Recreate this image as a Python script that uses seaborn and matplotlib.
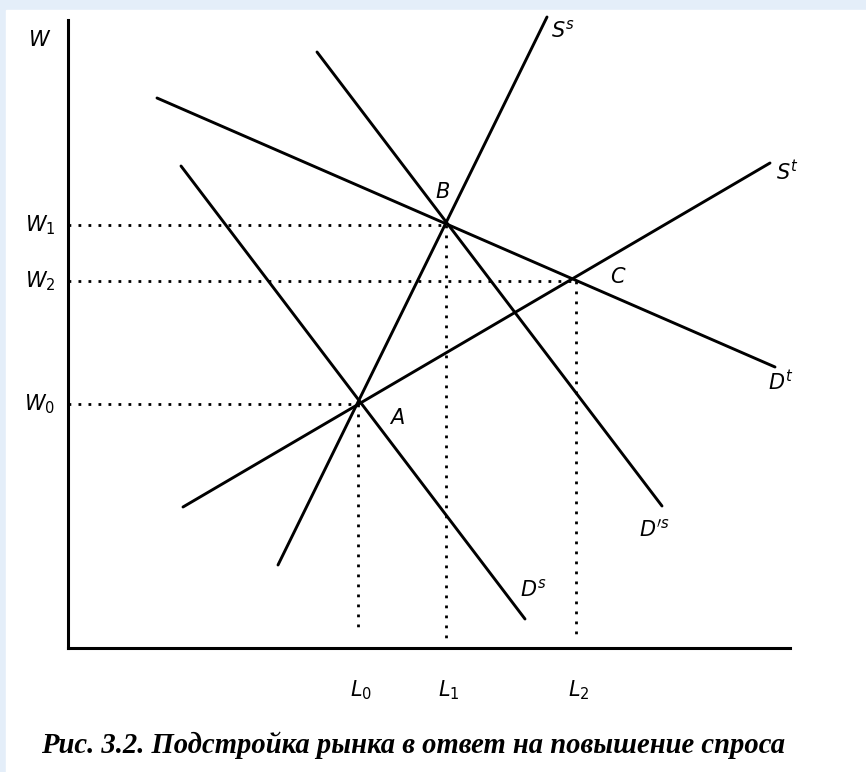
import numpy as np
import pandas as pd
import matplotlib
matplotlib.use("Agg")
import matplotlib.pyplot as plt
import seaborn as sns

# line endpoints (L on x, W on y)
curves = ["S^s", "S^t", "D^t", "D^s", "D'^s"]
curve_L = [[21.0, 47.9], [11.5, 70.2], [8.9, 70.7], [11.3, 45.7], [24.9, 59.4]]
curve_W = [[8.3, 63.1], [14.1, 48.5], [55.0, 28.1], [48.2, 2.9], [59.6, 14.2]]

# equilibrium points A, B, C
points = ["A", "B", "C"]
point_L = [29.0, 37.8, 50.8]
point_W = [24.4, 42.3, 36.7]
guide_bottom = [1.4, 0.3, 1.4]

w_labels = [r"$W_0$", r"$W_1$", r"$W_2$"]
l_labels = [r"$L_0$", r"$L_1$", r"$L_2$"]

caption = "Рис. 3.2. Подстройка рынка в ответ на повышение спроса"

sns.set_theme(style="white")
plt.rcParams["mathtext.fontset"] = "dejavusans"
plt.rcParams["font.family"] = ["DejaVu Sans"]
plt.rcParams["text.color"] = "black"

rows = []
for name, xs, ys in zip(curves, curve_L, curve_W):
    for x, y in zip(xs, ys):
        rows.append({"curve": name, "L": x, "W": y})
df = pd.DataFrame(rows)

guides = []
for p, x, y, yb in zip(points, point_L, point_W, guide_bottom):
    guides.append({"g": p + "h", "L": 0, "W": y})
    guides.append({"g": p + "h", "L": x, "W": y})
    guides.append({"g": p + "v", "L": x, "W": y})
    guides.append({"g": p + "v", "L": x, "W": yb})
gdf = pd.DataFrame(guides)

fig = plt.figure(figsize=(8.66, 7.72), dpi=100)
fig.patch.set_facecolor("#e4eef9")
fig.add_artist(plt.Rectangle((6 / 866, 0), 1, 1 - 10 / 772, color="white",
                             transform=fig.transFigure, zorder=-1))

ax = fig.add_axes([68 / 866, 124 / 772, 722 / 866, 628 / 772])
ax.set_facecolor("none")

sns.lineplot(data=gdf, x="L", y="W", units="g", estimator=None, sort=False,
             color="black", lw=2.0, ax=ax, linestyle=(0, (1, 2.6)))
sns.lineplot(data=df, x="L", y="W", units="curve", estimator=None, sort=False,
             color="black", lw=2.1, ax=ax)
for line in ax.lines:
    line.set_clip_on(False)

ax.set_xlim(0, 72.2)
ax.set_ylim(0, 62.8)
ax.set_xticks([])
ax.set_yticks([])
ax.set_xlabel("")
ax.set_ylabel("")
for s in ["top", "right"]:
    ax.spines[s].set_visible(False)
for s in ["left", "bottom"]:
    ax.spines[s].set_color("black")
    ax.spines[s].set_linewidth(2.2)

fs = 15
ax.text(-2.8, 60.8, r"$W$", fontsize=fs, ha="center", va="center")
for lab, y in zip(w_labels, point_W):
    ax.text(-2.8, y, lab, fontsize=fs, ha="center", va="center")
for lab, x in zip(l_labels, point_L):
    ax.text(x + 0.3, -4.2, lab, fontsize=fs, ha="center", va="center")

ax.text(48.3, 61.8, r"$S^s$", fontsize=fs, ha="left", va="center")
ax.text(70.8, 47.6, r"$S^t$", fontsize=fs, ha="left", va="center")
ax.text(70.0, 26.6, r"$D^t$", fontsize=fs, ha="left", va="center")
ax.text(45.2, 5.9, r"$D^s$", fontsize=fs, ha="left", va="center")
ax.text(57.1, 11.9, r"$D^{\prime s}$", fontsize=fs, ha="left", va="center")
ax.text(32.9, 23.0, r"$A$", fontsize=fs, ha="center", va="center")
ax.text(37.5, 45.6, r"$B$", fontsize=fs, ha="center", va="center")
ax.text(55.0, 37.1, r"$C$", fontsize=fs, ha="center", va="center")

fig.text(413 / 866, 1 - 745 / 772, caption, fontsize=20.6, ha="center", va="center",
         family=["Liberation Serif"], style="italic", weight="bold")

fig.savefig("out.png", dpi=100, facecolor=fig.get_facecolor())
